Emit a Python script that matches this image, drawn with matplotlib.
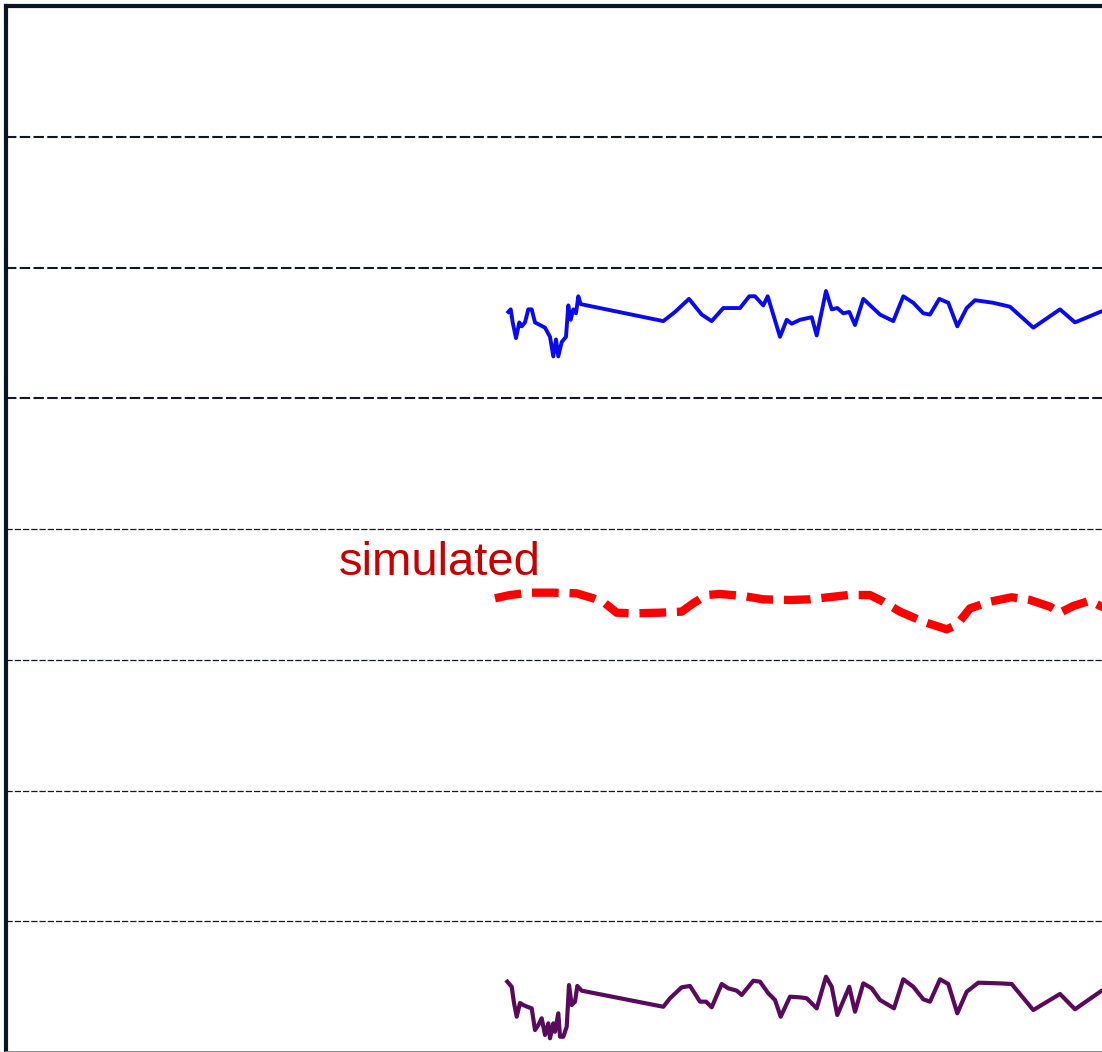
import matplotlib
matplotlib.use("Agg")
import matplotlib.pyplot as plt

# Observed series (upper trace)
obs_top_x = [50.23, 50.47, 50.67, 51.0, 51.33, 51.57, 51.9, 52.23, 52.57, 52.9,
             53.4, 53.9, 54.4, 54.73, 55.0, 55.23, 55.57, 56.0, 56.23, 56.47,
             56.73, 57.0, 57.23, 57.47, 65.73, 66.9, 68.3, 69.57, 70.57, 71.73,
             72.23, 73.4, 74.33, 74.9, 75.73, 76.17, 77.4, 78.07, 78.57,
             79.4, 80.57, 81.07, 82.0, 82.57, 83.13, 83.73, 84.33, 84.9, 85.73,
             87.4, 88.73, 89.73, 90.73, 91.73, 92.4, 93.33, 94.23, 95.13, 96.07,
             96.9, 98.73, 100.4, 102.73, 105.4, 106.9, 109.4, 111.0]
obs_top_y = [5.66, 5.68, 5.58, 5.46, 5.58, 5.55, 5.58, 5.68, 5.68, 5.58,
             5.56, 5.54, 5.47, 5.32, 5.45, 5.32, 5.43, 5.47, 5.71, 5.60,
             5.68, 5.65, 5.78, 5.72, 5.59, 5.66, 5.76, 5.64, 5.59, 5.69,
             5.69, 5.69, 5.78, 5.78, 5.71, 5.78, 5.47, 5.60, 5.57,
             5.60, 5.62, 5.48, 5.82, 5.68, 5.69, 5.65, 5.66, 5.56, 5.76,
             5.64, 5.59, 5.78, 5.73, 5.65, 5.64, 5.76, 5.73, 5.55, 5.69,
             5.75, 5.73, 5.70, 5.54, 5.68, 5.58, 5.66, 5.70]

# Simulated series
sim_x = [48.9, 50.4, 52.4, 54.73, 57.07, 58.73, 59.9, 61.07, 62.73, 65.4,
         67.57, 68.73, 70.07, 71.4, 73.73, 75.73, 78.4, 80.4, 84.23, 86.4,
         87.73, 89.4, 91.73, 94.07, 95.07, 96.4, 98.4, 100.57, 102.4, 104.4,
         105.4, 106.73, 108.4, 109.57, 111.0]
sim_y = [3.470, 3.495, 3.513, 3.513, 3.508, 3.470, 3.432, 3.360, 3.355, 3.360,
         3.368, 3.432, 3.495, 3.503, 3.488, 3.462, 3.457, 3.462, 3.495, 3.495,
         3.444, 3.368, 3.291, 3.233, 3.266, 3.393, 3.444, 3.478, 3.457, 3.406,
         3.360, 3.411, 3.452, 3.406, 3.380]

# Observed series (lower trace)
obs_bot_x = [50.13, 50.57, 50.8, 51.07, 51.4, 51.73, 52.13, 52.57, 52.9, 53.23,
             53.57, 53.9, 54.23, 54.4, 54.73, 54.9, 55.23, 55.4, 55.73, 56.07,
             56.3, 56.57, 56.9, 57.13, 57.57, 65.73, 66.4, 67.57, 68.4, 69.4,
             70.0, 70.57, 71.57, 72.23, 73.07, 73.57, 74.73, 75.4, 76.23, 76.9,
             77.47, 78.4, 79.4, 80.07, 81.07, 82.0, 82.57, 83.13, 84.33, 84.9,
             85.73, 86.57, 87.4, 88.8, 89.73, 90.73, 91.73, 92.4, 93.4, 94.23,
             95.13, 96.07, 97.23, 99.4, 100.57, 102.73, 105.4, 106.9, 109.57, 111.0]
obs_bot_y = [0.538, 0.499, 0.375, 0.270, 0.375, 0.359, 0.346, 0.334, 0.168, 0.206,
             0.258, 0.130, 0.219, 0.105, 0.219, 0.155, 0.296, 0.117, 0.117, 0.193,
             0.512, 0.359, 0.385, 0.505, 0.469, 0.346, 0.411, 0.495, 0.505, 0.385,
             0.385, 0.342, 0.520, 0.487, 0.469, 0.436, 0.545, 0.538, 0.449, 0.398,
             0.270, 0.423, 0.418, 0.411, 0.334, 0.576, 0.499, 0.283, 0.499, 0.308,
             0.525, 0.487, 0.398, 0.334, 0.556, 0.499, 0.403, 0.385, 0.556, 0.520,
             0.296, 0.461, 0.530, 0.525, 0.520, 0.321, 0.444, 0.327, 0.469, 0.500]

grid_levels = [1, 2, 3, 4, 5, 6, 7]
label_text = "simulated"

fig = plt.figure(figsize=(11.02, 10.52), dpi=100)
ax = fig.add_axes([6 / 1102, 0.0, 1 - 6 / 1102, 1046 / 1052])

# Dashed horizontal guide lines (upper ones a bit heavier)
for lvl in grid_levels:
    lw = 1.5 if lvl >= 5 else 0.9
    ax.axhline(lvl, color="#101828", linewidth=lw, linestyle=(0, (5, 1.6)), zorder=1)

ax.plot(obs_top_x, obs_top_y, color="#0a0af0", linewidth=2.8,
        solid_joinstyle="round", zorder=3)
ax.plot(sim_x, sim_y, color="#ff0000", linewidth=6.0, dashes=(3.2, 1.3),
        dash_capstyle="butt", zorder=3)
ax.plot(obs_bot_x, obs_bot_y, color="#5a0a5c", linewidth=3.0,
        solid_joinstyle="round", zorder=3)

ax.text(33.3, 3.645, label_text, color="#c80000", fontsize=34,
        family=["Liberation Sans", "DejaVu Sans"], ha="left", va="baseline")

ax.set_xlim(0, 109.6)
ax.set_ylim(0, 8)
ax.set_xticks([])
ax.set_yticks([])

ax.spines["right"].set_visible(False)
ax.spines["left"].set_color("#0b1220")
ax.spines["left"].set_linewidth(3)
ax.spines["top"].set_color("#0b1220")
ax.spines["top"].set_linewidth(3)
ax.spines["bottom"].set_color("#808080")
ax.spines["bottom"].set_linewidth(2)

fig.savefig("out.png", dpi=100)
plt.close(fig)
